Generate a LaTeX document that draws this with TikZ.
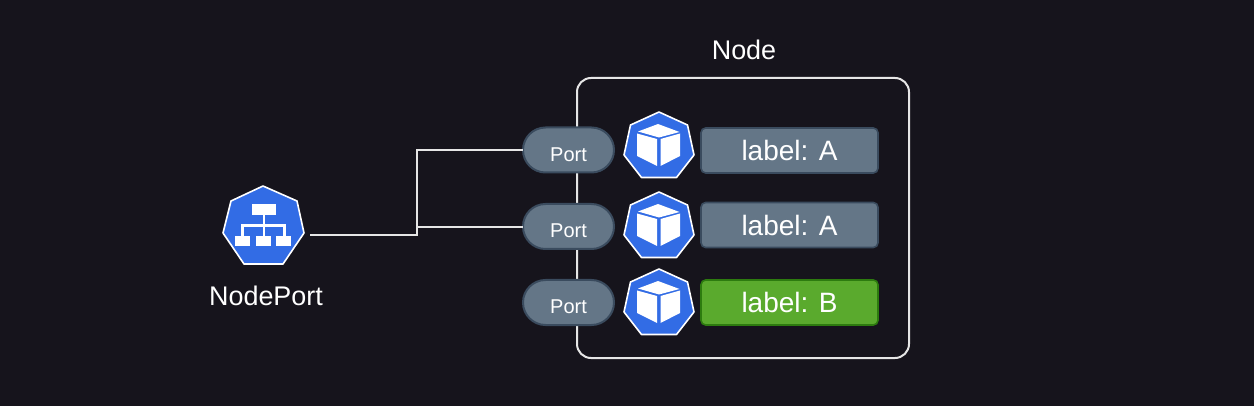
\documentclass[tikz,border=0pt]{standalone}
\usepackage{fontspec}
\setmainfont{Liberation Sans}
\usetikzlibrary{shapes.misc}
\definecolor{bgc}{HTML}{16141C}
\definecolor{kblue}{HTML}{326CE5}
\definecolor{lineg}{HTML}{E6E6E6}
\definecolor{slatef}{HTML}{647687}
\definecolor{slated}{HTML}{3A4B5E}
\definecolor{greenf}{HTML}{5AAA2D}
\definecolor{greend}{HTML}{2D7B0F}
\tikzset{
  x=0.75pt,y=-0.75pt,
  wire/.style={draw=lineg,line width=1.6pt},
  portbox/.style={rounded rectangle,draw=slated,fill=slatef,line width=1.5pt,text=white,
    minimum width=91*0.75pt,minimum height=45*0.75pt,inner sep=0pt,outer sep=0pt,
    text height=17.25pt,text depth=0pt,font=\fontsize{15}{18}\selectfont},
  tagbox/.style={rectangle,rounded corners=3.5pt,line width=1.2pt,text=white,
    minimum width=177*0.75pt,minimum height=45*0.75pt,inner sep=0pt,outer sep=0pt,
    text height=15.6pt,text depth=0pt,font=\fontsize{21}{25}\selectfont},
  greytag/.style={tagbox,draw=slated,fill=slatef},
  greentag/.style={tagbox,draw=greend,fill=greenf},
  caption/.style={text=white,inner sep=0pt,font=\fontsize{20.2}{24}\selectfont},
  hepta/.style={draw=white,fill=kblue,line width=1.2pt,line join=round},
  pod icon/.pic={
    \draw[hepta] (0,-41) -- (28.5,-28) -- (35,2) -- (17.5,24.5) -- (-17.5,24.5) -- (-35,2) -- (-28.5,-28) -- cycle;
    \fill[white] (-1,-29) -- (20.5,-21) -- (0,-15.5) -- (-21,-21.5) -- cycle;
    \fill[white] (-22,-19.5) -- (-2,-14) -- (-2,13) -- (-22,3) -- cycle;
    \fill[white] (1.5,-14) -- (21,-19.5) -- (21,3) -- (1.5,13) -- cycle;
  }
}
\begin{document}
\begin{tikzpicture}
\fill[bgc] (0,0) rectangle (1254,406);
\useasboundingbox (0,0) rectangle (1254,406);

\node[rectangle,draw=lineg,line width=1.5pt,rounded corners=10.5pt,minimum width=332*0.75pt,minimum height=280*0.75pt,inner sep=0pt,outer sep=0pt] (frame) at (743,218) {};
\node[caption] (nodecap) at (744,50) {Node};

\draw[hepta] (263,186) -- (297,201) -- (304,233) -- (283,264) -- (244,264) -- (223,233) -- (231,201) -- cycle;
\draw[white,line width=1.8pt] (263.7,210) -- (263.7,238) (242.3,240) -- (242.3,225.7) -- (284.3,225.7) -- (284.3,240);
\fill[white] (251.7,204) rectangle (275.7,215);
\fill[white] (235,235.7) rectangle (250,246);
\fill[white] (255.7,235.7) rectangle (270.7,246);
\fill[white] (276.3,235.7) rectangle (291.3,246);
\node[caption] (svccap) at (266,296) {NodePort};

\node[portbox] (p1) at (568.5,150) {Port};
\node[portbox] (p2) at (568.5,226.5) {Port};
\node[portbox] (p3) at (568.5,302.5) {Port};

\coordinate (start) at (310,235);
\coordinate (j1) at (417,235);
\coordinate (j2) at (417,227);
\draw[wire] (start) -- (j1) -- (j1 |- p1.west) -- (p1.west);
\draw[wire] (j2) -- (j2 -| p2.west);

\pic at (659,153) {pod icon};
\pic at (659,233) {pod icon};
\pic at (659,310) {pod icon};

\node[greytag] (t1) at (789.5,150.5) {label: A};
\node[greytag] (t2) at (789.5,225) {label: A};
\node[greentag] (t3) at (789.5,302.5) {label: B};
\end{tikzpicture}
\end{document}
